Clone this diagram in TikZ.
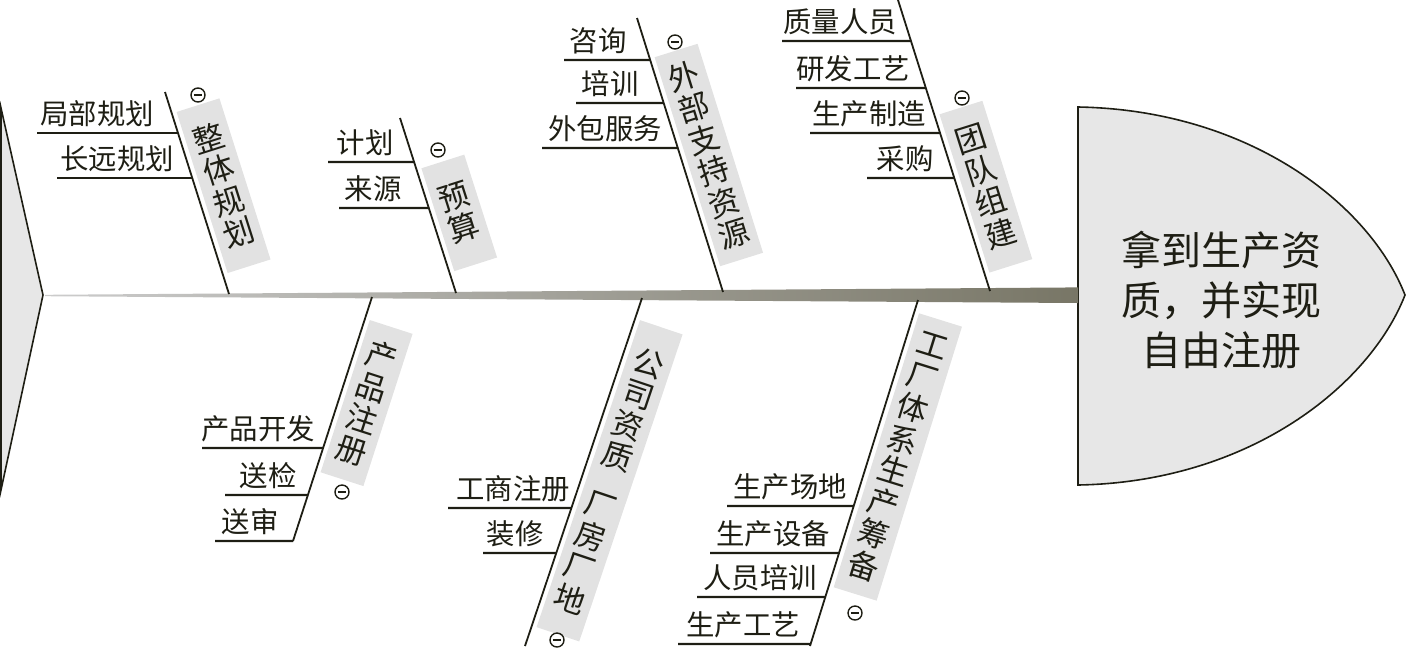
\documentclass[tikz,border=0pt]{standalone}
\usepackage{fontspec}
\setmainfont{Noto Sans CJK SC}
\usetikzlibrary{calc,positioning}
\definecolor{fbink}{RGB}{30,30,20}
\definecolor{fbspine}{RGB}{120,118,102}
\definecolor{fbbox}{RGB}{226,226,226}
\definecolor{fbhead}{RGB}{231,231,231}

\begin{document}
\begin{tikzpicture}[x=0.5pt,y=-0.5pt,
  bone/.style={draw=fbink,line width=0.9pt},
  sub/.style={draw=fbink,line width=1.2pt},
  item/.style={font=\fontsize{14.2}{16}\selectfont,text=fbink,inner xsep=0pt,inner ysep=3pt,anchor=south},
  tag/.style={fill=fbbox,text=fbink,font=\fontsize{15.5}{16.5}\selectfont,align=center,minimum width=22.5pt,inner sep=0pt,outer sep=2.5pt,anchor=west},
  ominus/.style={circle,draw=fbink,line width=0.7pt,minimum size=7pt,inner sep=0pt,
    path picture={\draw[line width=0.8pt] ([xshift=1.4pt]path picture bounding box.west) -- ([xshift=-1.4pt]path picture bounding box.east);}}
]
  \useasboundingbox (0,0) rectangle (1406,654);
  % Tail
  \coordinate (tailtop) at (1,108);
  \coordinate (tailtip) at (43,295);
  \coordinate (tailbot) at (1,490);
  \filldraw[fill=fbhead,draw=fbink,line width=0.8pt] (tailtop) -- (tailtip) -- (tailbot) -- cycle;
  % Head
  \filldraw[fill=fbhead,draw=fbink,line width=0.8pt] (1078,107) .. controls (1250,110) and (1370,205) .. (1405,295)
    .. controls (1370,385) and (1250,482) .. (1078,485) -- cycle;
  \node[font=\fontsize{20}{25}\selectfont,align=center,text=fbink] (goal) at (1221,300) {拿到生产资\\质，并实现\\自由注册};
  % Spine
  \coordinate (spineL) at (45,295.5);
  \coordinate (spineR) at (1078,295.2);
  \shade[left color=black!20,middle color=fbspine,right color=fbspine] ($(spineL)+(0,-0.7)$) -- ($(spineR)+(0,-7.8)$)
    -- ($(spineR)+(0,7.8)$) -- ($(spineL)+(0,0.7)$) -- cycle;

  % Bone 1 -- top
  \coordinate (b1t) at (165,92);
  \coordinate (b1b) at (229,294);
  \draw[bone] (b1t) -- (b1b);
  \node[tag,rotate=17.6,minimum height=84.5pt] (lb1) at ($(b1t)!0.505!(b1b)$) {整\\体\\规\\划};
  \node[ominus] (om1) at (198,95) {};
  \coordinate (s11) at (37,133);
  \node[item] (t11) at (97,133) {局部规划};
  \draw[sub] (s11) -- (intersection of s11--t11.south and b1t--b1b);
  \coordinate (s12) at (57,178);
  \node[item] (t12) at (117,178) {长远规划};
  \draw[sub] (s12) -- (intersection of s12--t12.south and b1t--b1b);

  % Bone 2 -- top
  \coordinate (b2t) at (400,118);
  \coordinate (b2b) at (456,293);
  \draw[bone] (b2t) -- (b2b);
  \node[tag,rotate=17.7,minimum height=54pt] (lb2) at ($(b2t)!0.59!(b2b)$) {预\\算};
  \node[ominus] (om2) at (438,150) {};
  \coordinate (s21) at (328,162);
  \node[item] (t21) at (365,162) {计划};
  \draw[sub] (s21) -- (intersection of s21--t21.south and b2t--b2b);
  \coordinate (s22) at (339,208);
  \node[item] (t22) at (373,208) {来源};
  \draw[sub] (s22) -- (intersection of s22--t22.south and b2t--b2b);

  % Bone 3 -- top
  \coordinate (b3t) at (637,18);
  \coordinate (b3b) at (723,292);
  \draw[bone] (b3t) -- (b3b);
  \node[tag,rotate=17.4,minimum height=109.5pt] (lb3) at ($(b3t)!0.53!(b3b)$) {外\\部\\支\\持\\资\\源};
  \node[ominus] (om3) at (675,42) {};
  \coordinate (s31) at (564,60);
  \node[item] (t31) at (598,60) {咨询};
  \draw[sub] (s31) -- (intersection of s31--t31.south and b3t--b3b);
  \coordinate (s32) at (576,103);
  \node[item] (t32) at (610,103) {培训};
  \draw[sub] (s32) -- (intersection of s32--t32.south and b3t--b3b);
  \coordinate (s33) at (542,148);
  \node[item] (t33) at (605,148) {外包服务};
  \draw[sub] (s33) -- (intersection of s33--t33.south and b3t--b3b);

  % Bone 4 -- top
  \coordinate (b4t) at (898,0);
  \coordinate (b4b) at (990,291);
  \draw[bone] (b4t) -- (b4b);
  \node[tag,rotate=17.5,minimum height=83pt] (lb4) at ($(b4t)!0.67!(b4b)$) {团\\队\\组\\建};
  \node[ominus] (om4) at (962,98) {};
  \coordinate (s41) at (782,41);
  \node[item] (t41) at (840,41) {质量人员};
  \draw[sub] (s41) -- (intersection of s41--t41.south and b4t--b4b);
  \coordinate (s42) at (796,88);
  \node[item] (t42) at (853,88) {研发工艺};
  \draw[sub] (s42) -- (intersection of s42--t42.south and b4t--b4b);
  \coordinate (s43) at (810,133);
  \node[item] (t43) at (869,133) {生产制造};
  \draw[sub] (s43) -- (intersection of s43--t43.south and b4t--b4b);
  \coordinate (s44) at (867,178);
  \node[item] (t44) at (905,178) {采购};
  \draw[sub] (s44) -- (intersection of s44--t44.south and b4t--b4b);

  % Bone 5 -- bottom
  \coordinate (b5t) at (372,297);
  \coordinate (b5b) at (293,541);
  \draw[bone] (b5t) -- (b5b);
  \node[tag,rotate=-17.9,minimum height=80pt] (lb5) at ($(b5t)!0.4!(b5b)$) {产\\品\\注\\册};
  \node[ominus] (om5) at (342,492) {};
  \coordinate (s51) at (202,448);
  \node[item] (t51) at (258,448) {产品开发};
  \draw[sub] (s51) -- (intersection of s51--t51.south and b5t--b5b);
  \coordinate (s52) at (225,495);
  \node[item] (t52) at (268,495) {送检};
  \draw[sub] (s52) -- (intersection of s52--t52.south and b5t--b5b);
  \coordinate (s53) at (215,541);
  \node[item] (t53) at (250,541) {送审};
  \draw[sub] (s53) -- (intersection of s53--t53.south and b5t--b5b);

  % Bone 6 -- bottom
  \coordinate (b6t) at (642,298);
  \coordinate (b6b) at (525,646);
  \draw[bone] (b6t) -- (b6b);
  \node[tag,rotate=-18.6,minimum height=162pt] (lb6) at ($(b6t)!0.5!(b6b)$) {公\\司\\资\\质\\[9pt]厂\\房\\厂\\地};
  \node[ominus] (om6) at (557,640) {};
  \coordinate (s61) at (448,508);
  \node[item] (t61) at (513,508) {工商注册};
  \draw[sub] (s61) -- (intersection of s61--t61.south and b6t--b6b);
  \coordinate (s62) at (483,553);
  \node[item] (t62) at (515,553) {装修};
  \draw[sub] (s62) -- (intersection of s62--t62.south and b6t--b6b);

  % Bone 7 -- bottom
  \coordinate (b7t) at (918,300);
  \coordinate (b7b) at (810,646);
  \draw[bone] (b7t) -- (b7b);
  \node[tag,rotate=-17.3,minimum height=143.5pt] (lb7) at ($(b7t)!0.43!(b7b)$) {工\\厂\\体\\系\\生\\产\\筹\\备};
  \node[ominus] (om7) at (855,613) {};
  \coordinate (s71) at (727,506);
  \node[item] (t71) at (790,506) {生产场地};
  \draw[sub] (s71) -- (intersection of s71--t71.south and b7t--b7b);
  \coordinate (s72) at (710,553);
  \node[item] (t72) at (773,553) {生产设备};
  \draw[sub] (s72) -- (intersection of s72--t72.south and b7t--b7b);
  \coordinate (s73) at (697,597);
  \node[item] (t73) at (760,597) {人员培训};
  \draw[sub] (s73) -- (intersection of s73--t73.south and b7t--b7b);
  \coordinate (s74) at (678,644);
  \node[item] (t74) at (743,644) {生产工艺};
  \draw[sub] (s74) -- (intersection of s74--t74.south and b7t--b7b);
\end{tikzpicture}
\end{document}
